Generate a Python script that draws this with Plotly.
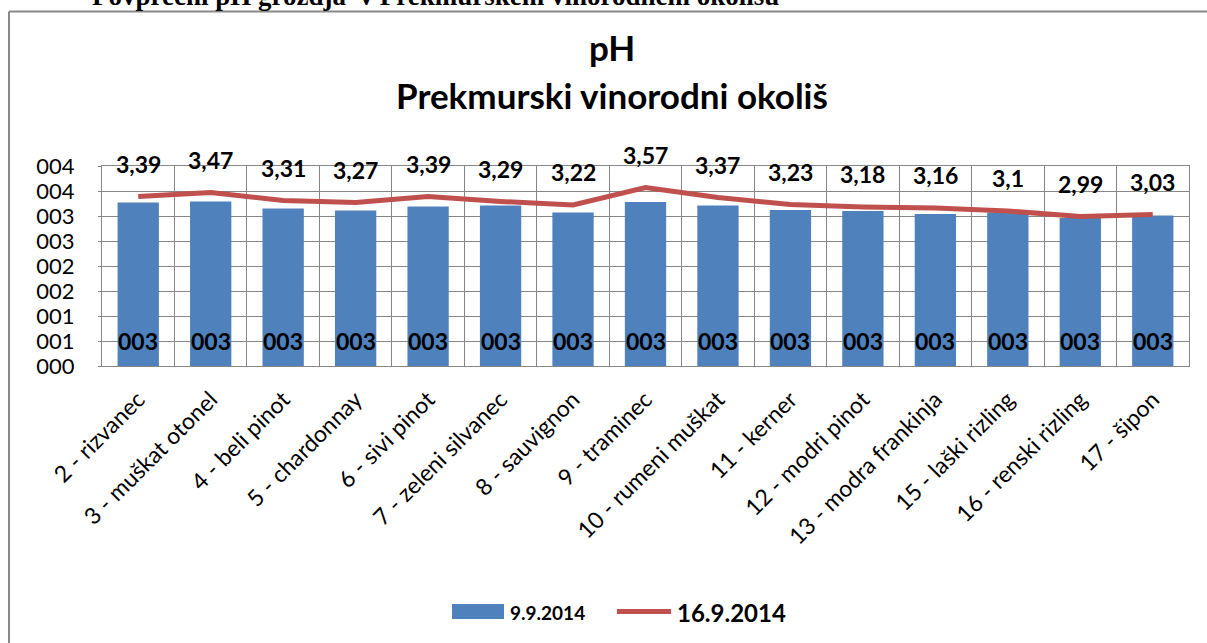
import plotly.graph_objects as go

categories = ["2 - rizvanec", "3 - muškat otonel", "4 - beli pinot", "5 - chardonnay",
              "6 - sivi pinot", "7 - zeleni silvanec", "8 - sauvignon", "9 - traminec",
              "10 - rumeni muškat", "11 - kerner", "12 - modri pinot", "13 - modra frankinja",
              "15 - laški rizling", "16 - renski rizling", "17 - šipon"]
ph_0909 = [3.27, 3.29, 3.15, 3.11, 3.19, 3.21, 3.07, 3.28, 3.21, 3.12, 3.10, 3.04, 3.07, 2.96, 3.01]
ph_1609 = [3.39, 3.47, 3.31, 3.27, 3.39, 3.29, 3.22, 3.57, 3.37, 3.23, 3.18, 3.16, 3.10, 2.99, 3.03]
y_tickvals = [0, 0.5, 1, 1.5, 2, 2.5, 3, 3.5, 4]
y_ticktext = ["000", "001", "001", "002", "002", "003", "003", "004", "004"]
series_names = ["9.9.2014", "16.9.2014"]
title_lines = ["pH", "Prekmurski vinorodni okoliš"]
caption = "Povprečni pH grozdja  v Prekmurskem vinorodnem okolišu"

FONT = "Lato"
BAR_COLOR = "#4F81BD"
LINE_COLOR = "#C0504D"
GRID = "#868686"
W, H = 1207, 643
L, R, T, B = 102, 18, 166, 277
pw, ph = W - L - R, H - T - B


def px_x(x):
    return (x - L) / pw


def px_y(y):
    return 1 + (T - y) / ph


bar_labels = [f"{round(v):03d}" for v in ph_0909]
line_labels = [f"{v:g}".replace(".", ",") for v in ph_1609]

fig = go.Figure()
fig.add_trace(go.Bar(
    x=categories, y=ph_0909, name=series_names[0],
    marker=dict(color=BAR_COLOR, line=dict(width=0)),
))
fig.add_trace(go.Scatter(
    x=categories, y=ph_1609, name=series_names[1],
    mode="lines", line=dict(color=LINE_COLOR, width=5),
))

bold = lambda size, fam=FONT: dict(family=fam, size=size, color="black", weight="bold")

annotations = []
for c, v in zip(categories, bar_labels):
    annotations.append(dict(x=c, y=0, yshift=25, text=v, showarrow=False, font=bold(23),
                            xanchor="center", yanchor="middle"))
for c, val, t in zip(categories, ph_1609, line_labels):
    annotations.append(dict(x=c, y=val, yshift=33, text=t, showarrow=False, font=bold(23),
                            xanchor="center", yanchor="middle"))
annotations += [
    dict(xref="paper", yref="paper", x=px_x(612), y=px_y(47), text=title_lines[0],
         showarrow=False, xanchor="center", yanchor="middle", font=bold(35)),
    dict(xref="paper", yref="paper", x=px_x(612), y=px_y(95), text=title_lines[1],
         showarrow=False, xanchor="center", yanchor="middle", font=bold(35)),
    dict(xref="paper", yref="paper", x=px_x(90), y=px_y(13), text=caption,
         showarrow=False, xanchor="left", yanchor="bottom", font=bold(27, "Liberation Serif")),
    # legend texts
    dict(xref="paper", yref="paper", x=px_x(508), y=px_y(612), text=series_names[0],
         showarrow=False, xanchor="left", yanchor="middle", font=bold(19)),
    dict(xref="paper", yref="paper", x=px_x(675), y=px_y(612), text=series_names[1],
         showarrow=False, xanchor="left", yanchor="middle", font=bold(24)),
]

shapes = [
    dict(type="line", xref="paper", yref="paper", x0=px_x(9), x1=px_x(1220), y0=px_y(11.5), y1=px_y(11.5),
         line=dict(color="#898989", width=2)),
    dict(type="line", xref="paper", yref="paper", x0=px_x(9), x1=px_x(9), y0=px_y(11.5), y1=px_y(660),
         line=dict(color="#898989", width=2)),
    # legend swatches
    dict(type="rect", xref="paper", yref="paper", x0=px_x(452), x1=px_x(504), y0=px_y(604), y1=px_y(619),
         fillcolor=BAR_COLOR, line=dict(width=0)),
    dict(type="line", xref="paper", yref="paper", x0=px_x(617), x1=px_x(671), y0=px_y(611.5), y1=px_y(611.5),
         line=dict(color=LINE_COLOR, width=5)),
]

fig.update_layout(
    width=W, height=H,
    margin=dict(l=L, r=R, t=T, b=B),
    paper_bgcolor="white", plot_bgcolor="white",
    font=dict(family=FONT, color="black"),
    bargap=0.43,
    showlegend=False,
    annotations=annotations,
    shapes=shapes,
)
fig.update_xaxes(
    type="category", tickangle=-45, tickfont=dict(family=FONT, size=23, color="black"),
    showgrid=True, gridcolor=GRID, gridwidth=1, tickson="boundaries",
    showline=True, linecolor=GRID, linewidth=1, mirror=True,
    ticks="", ticklabelstandoff=10,
)
fig.update_yaxes(
    range=[0, 4], tickvals=y_tickvals, ticktext=y_ticktext,
    tickfont=dict(family=FONT, size=22, color="black"),
    showgrid=True, gridcolor=GRID, gridwidth=1,
    showline=True, linecolor=GRID, linewidth=1, mirror=True,
    ticks="outside", ticklen=3, tickcolor=GRID, ticklabelstandoff=19,
    zeroline=False,
)

fig.write_html("out.html", config={"displayModeBar": False},
               post_script="document.body.style.margin='0px';document.body.style.overflow='hidden';")
